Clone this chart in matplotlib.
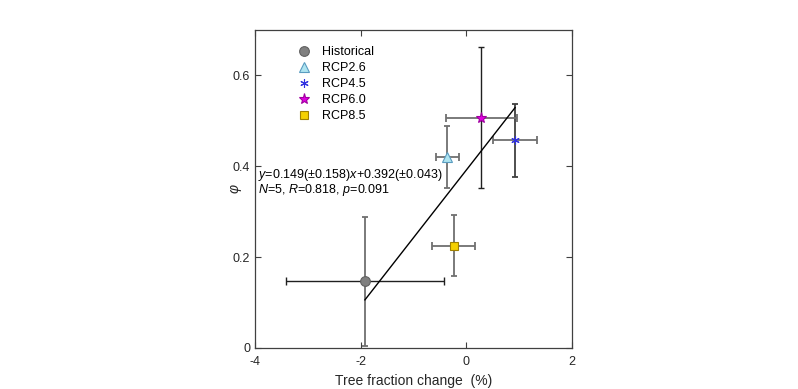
import matplotlib.pyplot as plt
from matplotlib.lines import Line2D

plt.rcParams['font.family'] = ['Liberation Sans', 'DejaVu Sans']
plt.rcParams['mathtext.fontset'] = 'custom'
plt.rcParams['mathtext.rm'] = 'Liberation Sans'
plt.rcParams['mathtext.it'] = 'Liberation Sans:italic'
plt.rcParams['axes.unicode_minus'] = False

# data
names = ['Historical', 'RCP2.6', 'RCP4.5', 'RCP6.0', 'RCP8.5']
x = [-1.92, -0.36, 0.92, 0.28, -0.24]
y = [0.147, 0.420, 0.457, 0.507, 0.225]
xerr = [1.50, 0.22, 0.42, 0.67, 0.41]
yerr = [0.142, 0.068, 0.080, 0.155, 0.067]
xerr_col = ['#202020', '#707070', '#707070', '#707070', '#707070']
yerr_col = ['#707070', '#707070', '#404040', '#202020', '#707070']

markers = ['o', '^', (6, 2, 0), '*', 's']
face = ['#808080', '#aee4f0', '#3030e0', '#e000e0', '#f5d000']
edge = ['#606060', '#5a9cc0', '#3030e0', '#a000a0', '#a08000']
msize = [7, 7, 6, 8, 6]

slope, intercept = 0.149, 0.392

fig = plt.figure(figsize=(7.98, 3.89), dpi=100)
ax = fig.add_axes([0.3195, 0.1054, 0.3975, 0.8175])

for i in range(len(x)):
    lw_x = 1.0 if xerr_col[i] == '#202020' else 1.3
    lw_y = 1.0 if yerr_col[i] == '#202020' else 1.3
    ax.errorbar(x[i], y[i], xerr=xerr[i], fmt='none', ecolor=xerr_col[i],
                elinewidth=lw_x, capsize=3, capthick=lw_x, zorder=2)
    ax.errorbar(x[i], y[i], yerr=yerr[i], fmt='none', ecolor=yerr_col[i],
                elinewidth=lw_y, capsize=2, capthick=lw_y, zorder=2)

xl = [min(x), max(x)]
ax.plot(xl, [slope * v + intercept for v in xl], color='black', lw=1, zorder=3)

handles = []
for i in range(len(x)):
    ax.plot(x[i], y[i], linestyle='none', marker=markers[i], ms=msize[i],
            mfc=face[i], mec=edge[i], mew=0.8, zorder=4)
    handles.append(Line2D([], [], linestyle='none', marker=markers[i], ms=msize[i],
                          mfc=face[i], mec=edge[i], mew=0.8, label=names[i]))

ax.legend(handles=handles, loc='upper left', bbox_to_anchor=(0.08, 0.985),
          frameon=False, fontsize=9, handletextpad=0.4, labelspacing=0.32)

ax.text(0.01, 0.544, r'$y$=0.149($\pm$0.158)$x$+0.392($\pm$0.043)',
        transform=ax.transAxes, fontsize=9, va='center')
ax.text(0.01, 0.497, r'$N$=5, $R$=0.818, $p$=0.091',
        transform=ax.transAxes, fontsize=9, va='center')

ax.set_xlim(-4, 2)
ax.set_ylim(0, 0.7)
ax.set_xticks([-4, -2, 0, 2])
ax.set_yticks([0, 0.2, 0.4, 0.6])
ax.set_yticklabels(['0', '0.2', '0.4', '0.6'])
ax.tick_params(direction='in', top=True, right=True, labelsize=9, length=4,
               color='#404040', labelcolor='#262626')
ax.tick_params(axis='x', pad=6)
for s in ax.spines.values():
    s.set_color('#404040')
    s.set_linewidth(0.9)

ax.set_xlabel('Tree fraction change  (%)', fontsize=10, color='#262626', labelpad=4)
ax.set_ylabel(r'$\varphi$', fontsize=10, color='#262626', labelpad=-8)

fig.savefig('out.png', dpi=100)
